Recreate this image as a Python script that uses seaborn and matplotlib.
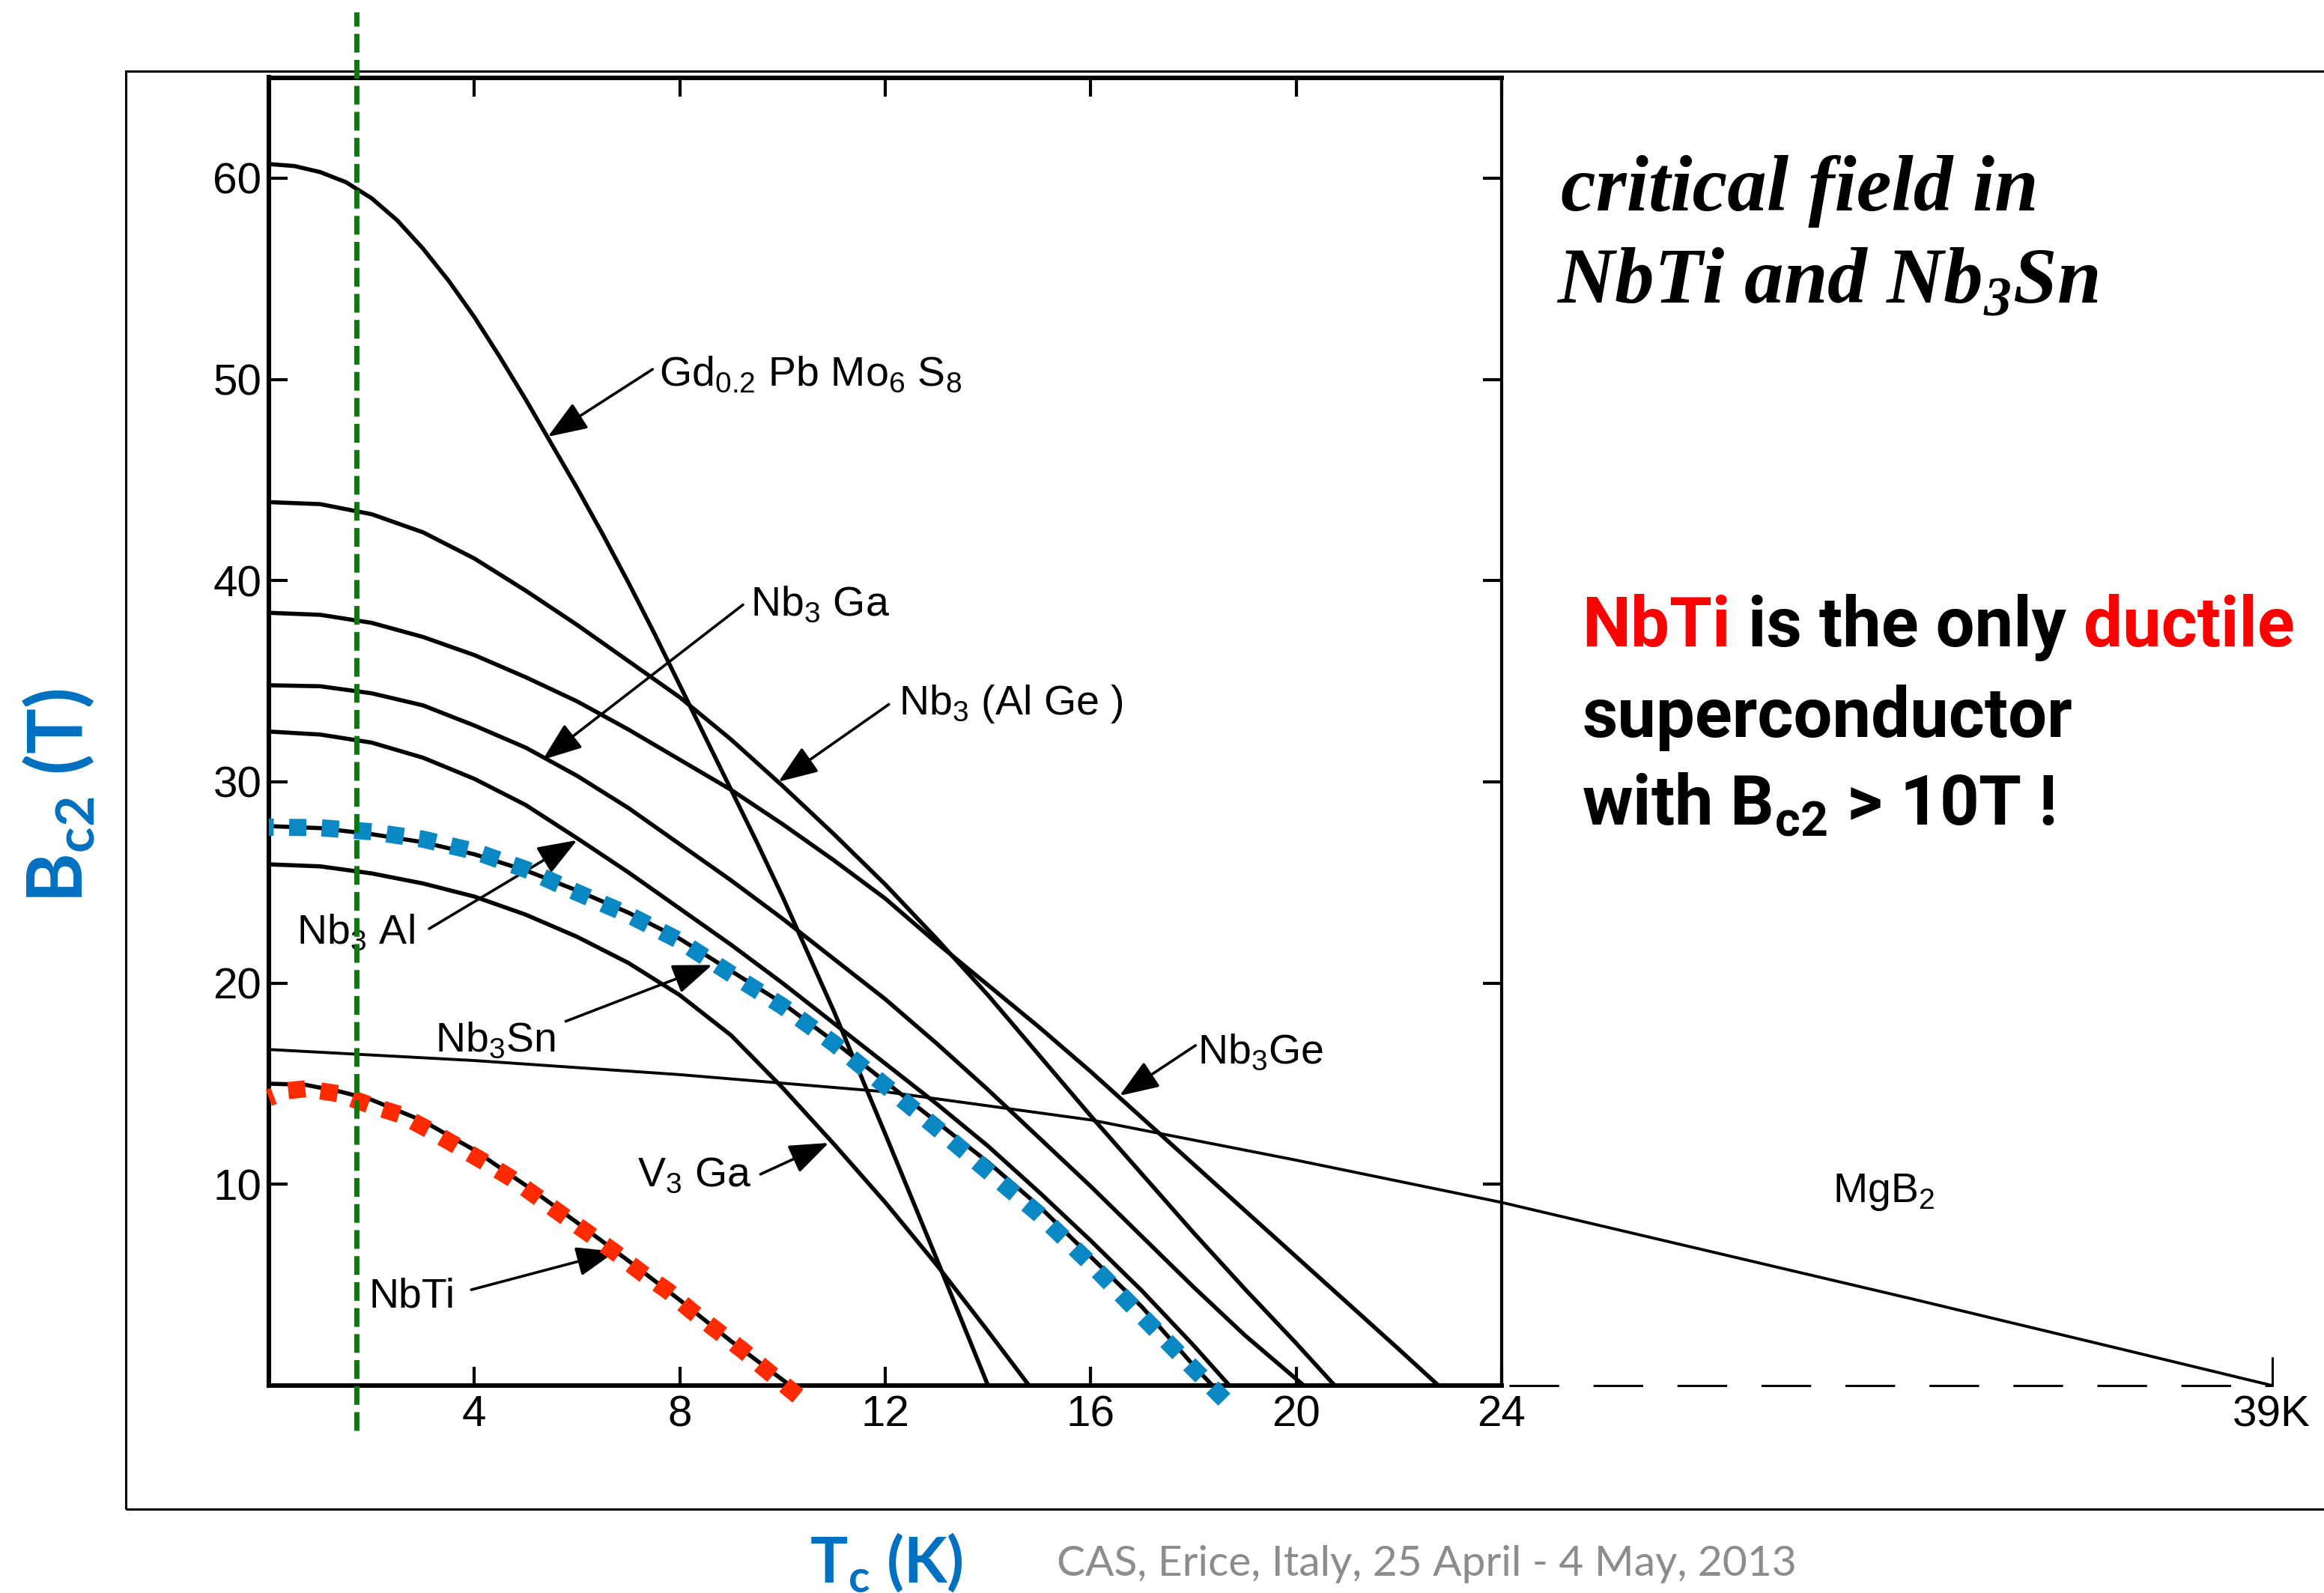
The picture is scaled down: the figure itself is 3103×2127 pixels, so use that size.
import numpy as np
import pandas as pd
import matplotlib
matplotlib.use("Agg")
import matplotlib.pyplot as plt
import seaborn as sns
from matplotlib import font_manager as fm
from matplotlib.patches import ArrowStyle, Rectangle

# ---------------------------------------------------------------- data
# upper critical field B_c2 (T) versus temperature T (K)
T_GD = [0, 0.5, 1.0, 1.5, 2.0, 2.5, 3.0, 3.5, 4.0, 4.5, 5.0, 5.5, 6.0, 6.5, 7.0, 7.5, 8.0,
        8.5, 9.0, 9.5, 10, 11, 12, 13, 14]
B_GD = [60.7, 60.6, 60.3, 59.8, 59.0, 57.9, 56.5, 54.9, 53.1, 51.1, 49.0, 46.8, 44.6, 42.3,
        39.9, 37.4, 34.8, 32.2, 29.6, 27.0, 24.3, 18.6, 12.5, 6.3, 0]

T_ALGE = [0, 1, 2, 3, 4, 5, 6, 7, 8, 9, 10, 11, 12, 13, 14, 15, 16, 17, 18, 19, 20, 20.75]
B_ALGE = [43.9, 43.8, 43.3, 42.4, 41.1, 39.5, 37.8, 36.0, 34.2, 32.1, 29.8, 27.4, 24.9, 22.2,
          19.4, 16.4, 13.4, 10.5, 7.6, 4.8, 2.1, 0]

T_GE = [0, 1, 2, 3, 4, 5, 6, 7, 8, 9, 10, 11, 12, 13, 14, 15, 16, 17, 18, 19, 20, 21, 22, 22.77]
B_GE = [38.4, 38.3, 37.9, 37.2, 36.3, 35.2, 34.0, 32.6, 31.1, 29.6, 27.9, 26.1, 24.2, 22.0,
        19.9, 17.8, 15.6, 13.3, 11.0, 8.7, 6.4, 4.1, 1.8, 0]

T_GA = [0, 1, 2, 3, 4, 5, 6, 7, 8, 9, 10, 11, 12, 13, 14, 15, 16, 17, 18, 19, 20.15]
B_GA = [34.8, 34.75, 34.4, 33.8, 32.8, 31.7, 30.3, 28.7, 26.9, 25.1, 23.2, 21.2, 19.2, 17.0,
        14.7, 12.3, 9.9, 7.4, 4.9, 2.5, 0]

T_AL = [0, 1, 2, 3, 4, 5, 6, 7, 8, 9, 10, 11, 12, 13, 14, 15, 16, 17, 18, 18.7]
B_AL = [32.5, 32.35, 31.95, 31.2, 30.15, 28.85, 27.2, 25.5, 23.7, 21.9, 20.0, 18.0, 16.0, 14.0,
        11.9, 9.6, 7.2, 4.7, 2.0, 0]

T_SN = [0, 1, 2, 3, 4, 5, 6, 7, 8, 9, 10, 11, 12, 13, 14, 15, 16, 17, 18, 18.37]
B_SN = [27.8, 27.7, 27.4, 27.0, 26.4, 25.6, 24.6, 23.5, 22.2, 20.6, 19.0, 17.1, 15.1, 13.1,
        11.1, 8.9, 6.4, 3.9, 1.0, 0]

T_V3GA = [0, 1, 2, 3, 4, 5, 6, 7, 8, 9, 10, 11, 12, 13, 14, 14.8]
B_V3GA = [25.9, 25.8, 25.45, 24.95, 24.3, 23.4, 22.3, 21.0, 19.4, 17.4, 14.8, 12.0, 9.1, 6.0, 2.7, 0]

T_NBTI = [0, 0.7, 1.4, 2, 3, 4, 5, 6, 7, 8, 9, 10.15]
B_NBTI = [15.0, 14.95, 14.6, 14.2, 13.15, 11.7, 9.95, 8.1, 6.2, 4.25, 2.2, 0]

T_MGB2 = [0, 4, 8, 12, 16, 20, 24, 28, 32, 36, 39]
B_MGB2 = [16.7, 16.15, 15.45, 14.6, 13.2, 11.2, 9.1, 6.7, 4.3, 1.85, 0]

# coloured highlight traces drawn over NbTi and Nb3Sn (listed from the Tc end)
T_RED = [10.3, 9.72, 9.2, 8.74, 8.23, 7.77, 7.26, 6.75, 6.24, 5.73, 5.23, 4.72, 4.17, 3.63,
         3.12, 2.57, 1.95, 1.36, 0.73, 0.35, 0.0]
B_RED = [-0.52, 0.7, 1.8, 2.7, 3.7, 4.7, 5.6, 6.6, 7.53, 8.45, 9.37, 10.3, 11.15, 11.95,
         12.7, 13.45, 13.95, 14.5, 14.75, 14.65, 14.3]
T_BLUE = [18.6, 18, 17, 16, 15, 14, 13, 12, 11, 10, 9, 8, 7, 6, 5, 4, 3, 2, 1, 0.0]
B_BLUE = [-0.7, 0.85, 3.45, 6.05, 8.5, 10.65, 12.8, 14.9, 17.0, 18.85, 20.45, 22.1, 23.4,
          24.5, 25.65, 26.55, 27.15, 27.52, 27.72, 27.75]

T_HE = 1.7          # operating temperature marker (K)
TC_MGB2 = 39        # MgB2 critical temperature (K)

X_TICKS = [4, 8, 12, 16, 20, 24]
Y_TICKS = [10, 20, 30, 40, 50, 60]

LABELS = [r"Gd$_\mathregular{0.2}$ Pb Mo$_\mathregular{6}$ S$_\mathregular{8}$",
          r"Nb$_\mathregular{3}$ Ga",
          r"Nb$_\mathregular{3}$ (Al Ge )",
          r"Nb$_\mathregular{3}$ Al",
          r"Nb$_\mathregular{3}$Sn",
          r"V$_\mathregular{3}$ Ga",
          "NbTi",
          r"Nb$_\mathregular{3}$Ge",
          r"MgB$_\mathregular{2}$"]
LABEL_AT = [(7.6, 49.7), (9.38, 38.26), (12.26, 33.35), (0.54, 21.96), (3.24, 16.6),
            (7.18, 9.9), (1.94, 3.9), (18.08, 16.0), (30.45, 9.1)]
ARROW_FROM = [(7.47, 50.5), (9.23, 38.8), (12.07, 33.85), (3.12, 22.7), (5.78, 18.1),
              (9.57, 10.5), (3.94, 4.76), (18.04, 16.9), None]
ARROW_TO = [(5.43, 47.15), (5.33, 31.1), (9.92, 30.0), (6.0, 27.1), (8.63, 20.9),
            (10.9, 12.06), (6.75, 6.66), (16.56, 14.4), None]

# ---------------------------------------------------------------- style
sns.set_theme(style="white")
plt.rcParams["font.family"] = ["Liberation Sans", "DejaVu Sans"]
plt.rcParams["mathtext.fontset"] = "dejavusans"
for k in ["text.color", "axes.labelcolor", "xtick.color", "ytick.color", "axes.edgecolor"]:
    plt.rcParams[k] = "black"

names = {f.name for f in fm.fontManager.ttflist}
if "Liberation Sans Narrow" in names:
    NARROW = "Liberation Sans Narrow"
elif "Roboto" in names:
    NARROW = "Roboto"
else:
    NARROW = "Liberation Sans"
CAL = "Lato" if "Lato" in names else "Liberation Sans"

RED = "#FF2A00"
BLUE = "#0A88C4"
GREEN = "#008000"
AXBLUE = "#0070C0"

W, H, DPI = 3103, 2127, 100
fig = plt.figure(figsize=(W / DPI, H / DPI), dpi=DPI, facecolor="white")

AX_L, AX_R, AX_T, AX_B = 359, 2005, 103.5, 1850
ax = fig.add_axes([AX_L / W, 1 - AX_B / H, (AX_R - AX_L) / W, (AX_B - AX_T) / H])
ax.set_facecolor("white")

# ---------------------------------------------------------------- curves
frames = []
for name, t, b in [("Gd", T_GD, B_GD), ("AlGe", T_ALGE, B_ALGE), ("Ge", T_GE, B_GE),
                   ("Ga", T_GA, B_GA), ("Al", T_AL, B_AL), ("Sn", T_SN, B_SN),
                   ("V3Ga", T_V3GA, B_V3GA), ("NbTi", T_NBTI, B_NBTI)]:
    frames.append(pd.DataFrame({"T": t, "B": b, "curve": name}))
df = pd.concat(frames, ignore_index=True)

sns.lineplot(data=df, x="T", y="B", units="curve", estimator=None, sort=False,
             color="black", linewidth=4.0, ax=ax, legend=False)
for ln in ax.lines:
    ln.set_solid_joinstyle("round")

sns.lineplot(x=T_MGB2, y=B_MGB2, estimator=None, sort=False, color="black",
             linewidth=2.8, ax=ax, legend=False)
ax.lines[-1].set_clip_on(False)

for t, b, c in [(T_RED, B_RED, RED), (T_BLUE, B_BLUE, BLUE)]:
    sns.lineplot(x=t, y=b, estimator=None, sort=False, color=c, linewidth=16.5,
                 ax=ax, legend=False)
    ln = ax.lines[-1]
    ln.set_linestyle((0, (1, 0.9)))
    ln.set_dash_capstyle("butt")
    ln.set_clip_on(False)
    ln.set_zorder(4)

# dashed zero line towards the MgB2 Tc and its end tick
ax.plot([24.15, TC_MGB2], [0, 0], color="black", lw=2.2, ls=(0, (21.7, 15)), clip_on=False)
ax.plot([TC_MGB2, TC_MGB2], [0, 1.38], color="black", lw=2.2, clip_on=False)
ax.annotate("39K", xy=(TC_MGB2, 0), xytext=(-1, -9), textcoords="offset points",
            ha="center", va="top", fontsize=42, color="black", annotation_clip=False)

# green operating-temperature line
ax.axvline(T_HE, ymin=-2.23 / 65, ymax=68.25 / 65, color=GREEN, lw=5,
           ls=(0, (3.6, 1.4)), clip_on=False, zorder=6)

# labels and arrows
arrow = ArrowStyle("-|>", head_length=0.45, head_width=0.17)
for lab, pos, a0, a1 in zip(LABELS, LABEL_AT, ARROW_FROM, ARROW_TO):
    ax.text(pos[0], pos[1], lab, fontsize=40, ha="left", va="baseline", clip_on=False,
            color="black", family=["Liberation Sans", "DejaVu Sans"])
    if a0 is not None:
        ax.annotate("", xy=a1, xytext=a0,
                    arrowprops=dict(arrowstyle=arrow, mutation_scale=72, lw=2.6,
                                    color="black", shrinkA=0, shrinkB=0))

# axes frame and ticks
ax.set_xlim(0, 24)
ax.set_ylim(0, 65)
ax.set_xticks(X_TICKS)
ax.set_yticks(Y_TICKS)
ax.set_xlabel("")
ax.set_ylabel("")
ax.grid(False)
ax.tick_params(axis="both", which="major", direction="in", length=18, width=3,
               color="black", labelsize=42, labelcolor="black",
               top=True, right=True, bottom=True, left=True)
ax.tick_params(axis="x", pad=9)
ax.tick_params(axis="y", pad=7)
for side, sp in ax.spines.items():
    sp.set_color("black")
    sp.set_linewidth(3 if side == "right" else 4.4)

# outer slide box (right edge runs off the slide)
fig.add_artist(Rectangle((168 / W, 1 - 2015 / H), 2.0, (2015 - 95) / H,
                         transform=fig.transFigure, fill=False, lw=2.2,
                         edgecolor="black", zorder=-1))

# ---------------------------------------------------------------- slide texts
R = fig.canvas.get_renderer()


def width(s, **kw):
    t = fig.text(0, 0, s, **kw)
    w = t.get_window_extent(renderer=R).width
    t.remove()
    return w


def fx(px):
    return px / W


def fy(py):
    return 1 - py / H


# title (serif, bold italic)
serif = dict(family=["Liberation Serif", "DejaVu Serif"], weight="bold", style="italic")
l1 = "critical field in"
l2 = r"NbTi and Nb$_\mathregular{3}$Sn"
s_a = 72 * 637 / width(l1, fontsize=72, **serif)
s_b = 72 * 723 / width(l2, fontsize=72, **serif)
s_t = 0.5 * (s_a + s_b)
fig.text(fx(2084), fy(281), l1, fontsize=s_t, va="baseline", ha="left", color="black", **serif)
fig.text(fx(2079), fy(404.5), l2, fontsize=s_t, va="baseline", ha="left", color="black", **serif)

# right statement (bold sans)
bold = dict(family=[NARROW, "Liberation Sans"], weight="bold")
full = "NbTi is the only ductile"
s_r = 72 * 950 / width(full, fontsize=72, **bold)
sp = width("n n", fontsize=s_r, **bold) - width("nn", fontsize=s_r, **bold)
x = 2112.5
for txt, col in [("NbTi", "#FF0000"), ("is the only", "black"), ("ductile", "#FF0000")]:
    fig.text(fx(x), fy(863), txt, fontsize=s_r, color=col, va="baseline", ha="left", **bold)
    x += width(txt, fontsize=s_r, **bold) + sp
fig.text(fx(2112.5), fy(984), "superconductor", fontsize=s_r, color="black",
         va="baseline", ha="left", **bold)
fig.text(fx(2112.5), fy(1101), r"with B$_\mathregular{c2}$ > 10T !", fontsize=s_r,
         color="black", va="baseline", ha="left", **bold)

# axis titles
cal_b = dict(family=[CAL, "DejaVu Sans"], weight="bold")
xl = r"T$_\mathregular{c}$ (K)"
s_x = 60 * 205 / width(xl, fontsize=60, **cal_b)
fig.text(fx(1081), fy(2113), xl, fontsize=s_x, color=AXBLUE, va="baseline", ha="left", **cal_b)

yl = r"B$_\mathregular{c2}$ (T)"
s_y = 60 * 287 / width(yl, fontsize=60, **cal_b)
fig.text(fx(79), fy(1063), yl, fontsize=s_y, color=AXBLUE, rotation=90,
         va="center", ha="center", **cal_b)

# footer
cal_r = dict(family=[CAL, "DejaVu Sans"], weight="normal")
foot = "CAS, Erice, Italy, 25 April - 4 May, 2013"
s_f = 50 * 988 / width(foot, fontsize=50, **cal_r)
fig.text(fx(1411), fy(2104), foot, fontsize=s_f, color="#8C8C8C", va="baseline",
         ha="left", **cal_r)

fig.savefig("out.png", dpi=DPI, facecolor="white")
